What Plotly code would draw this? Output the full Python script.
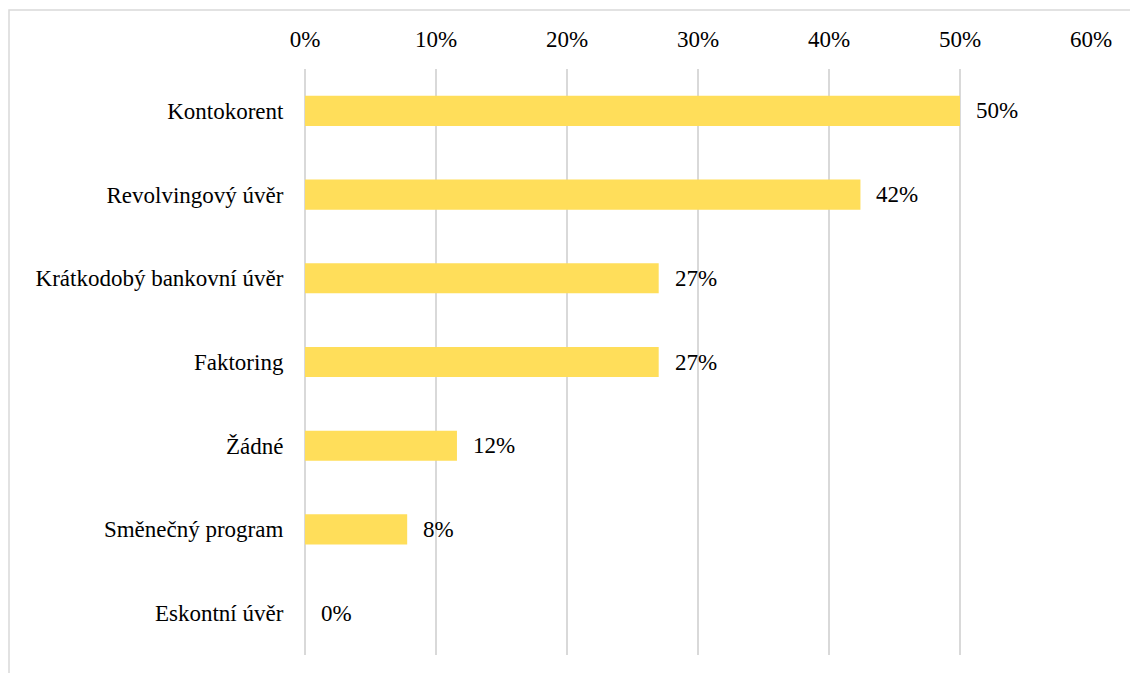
import plotly.graph_objects as go

# Short-term financing products in use (share of respondents)
categories = [
    "Kontokorent",
    "Revolvingový úvěr",
    "Krátkodobý bankovní úvěr",
    "Faktoring",
    "Žádné",
    "Směnečný program",
    "Eskontní úvěr",
]
shares = [0.50, 0.424, 0.27, 0.27, 0.116, 0.078, 0.0]
tick_values = [0, 0.1, 0.2, 0.3, 0.4, 0.5, 0.6]
tick_labels = ["0%", "10%", "20%", "30%", "40%", "50%", "60%"]

FONT = "'Times New Roman', 'Liberation Serif', 'DejaVu Serif', serif"
FONT_SIZE = 23
BAR_COLOR = "#FFDE5A"
GRID_COLOR = "#D9D9D9"

fig = go.Figure(
    go.Bar(
        x=shares,
        y=categories,
        orientation="h",
        marker=dict(color=BAR_COLOR, line=dict(width=0)),
        hoverinfo="skip",
    )
)

# value labels to the right of each bar
for cat, val in zip(categories, shares):
    fig.add_annotation(
        x=val, y=cat, xref="x", yref="y",
        text=f"{val:.0%}", showarrow=False,
        xanchor="left", yanchor="middle", xshift=14,
        font=dict(family=FONT, size=FONT_SIZE, color="#000000"),
    )

# thin frame around the chart
fig.add_shape(
    type="rect", xref="paper", yref="paper",
    x0=-0.3766, x1=2.0, y0=-1.0, y1=1.1007,
    line=dict(color=GRID_COLOR, width=1.5), fillcolor="rgba(0,0,0,0)",
    layer="below",
)

fig.update_layout(
    width=1130, height=673,
    margin=dict(l=305, r=39, t=69, b=18),
    paper_bgcolor="white", plot_bgcolor="white",
    bargap=0.64,
    showlegend=False,
    font=dict(family=FONT, size=FONT_SIZE, color="#000000"),
    xaxis=dict(
        side="top", range=[0, 0.6],
        tickvals=tick_values, ticktext=tick_labels,
        showgrid=True, gridcolor=GRID_COLOR, gridwidth=2,
        zeroline=True, zerolinecolor=GRID_COLOR, zerolinewidth=2,
        showline=False,
        ticks="outside", ticklen=12, tickcolor="rgba(0,0,0,0)",
        tickfont=dict(family=FONT, size=FONT_SIZE),
        fixedrange=True,
    ),
    yaxis=dict(
        autorange="reversed",
        showgrid=False, zeroline=False, showline=False,
        ticks="outside", ticklen=16, tickcolor="rgba(0,0,0,0)",
        tickfont=dict(family=FONT, size=FONT_SIZE),
        fixedrange=True,
    ),
)

fig.write_html("out.html")
